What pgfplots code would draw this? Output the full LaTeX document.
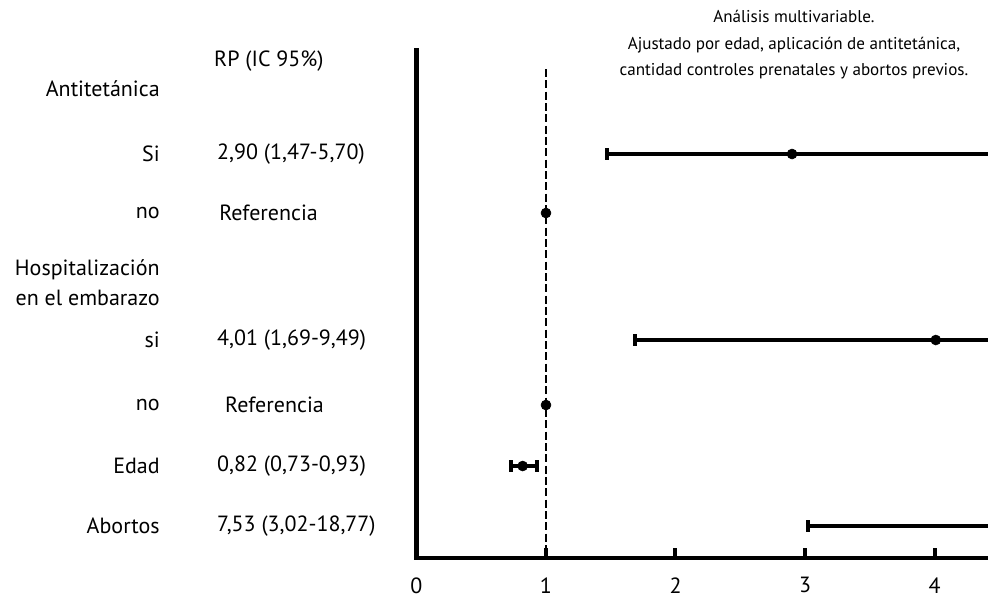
\documentclass[border=0pt]{standalone}
\usepackage{pgfplots}
\pgfplotsset{compat=1.18}
\usepackage{fontspec}
\setmainfont{PT Sans}
\begin{document}
\begin{tikzpicture}
\begin{axis}[
  x=97.125pt, y=0.75pt,
  xmin=0, xmax=4.413, ymin=35, ymax=543,
  axis x line=bottom, axis y line=left,
  axis line style={-, line width=3.4pt, line cap=rect},
  xtick={0,1,2,3,4}, ytick=\empty,
  tick align=inside, major tick length=7.5pt,
  x tick style={line width=3pt, black},
  xticklabel style={font=\fontsize{16.5}{19}\selectfont, yshift=-11pt},
  /pgf/number format/assume math mode=true,
  clip mode=individual,
  font=\fontsize{16.5}{19}\selectfont,
]
% reference line at 1
\addplot[black, line width=1.1pt, dash pattern=on 6pt off 2.5pt] coordinates {(1,524) (1,45)};
% estimates with 95% CI
\addplot[black, only marks, mark=*, mark size=3.75pt,
  error bars/.cd, x dir=both, x explicit,
  error bar style={line width=3pt},
  error mark options={rotate=90, line width=3pt, mark size=4.2pt}]
coordinates {
  (2.90,439) -= (1.43,0) += (2.80,0)
  (4.01,253) -= (2.32,0) += (5.48,0)
  (0.82,127) -= (0.09,0) += (0.11,0)
  (7.53,67)  -= (4.51,0) += (11.24,0)
};
\addplot[black, only marks, mark=*, mark size=3.75pt] coordinates {(1,380) (1,188)};
% left labels
\node[anchor=east, inner sep=0] at (axis cs:-1.981,504) {Antitetánica};
\node[anchor=east, inner sep=0] at (axis cs:-1.981,439) {Si};
\node[anchor=east, inner sep=0] at (axis cs:-1.981,380) {no};
\node[anchor=east, inner sep=0] at (axis cs:-1.981,323) {Hospitalización};
\node[anchor=east, inner sep=0] at (axis cs:-1.981,295) {en el embarazo};
\node[anchor=east, inner sep=0] at (axis cs:-1.981,253) {si};
\node[anchor=east, inner sep=0] at (axis cs:-1.981,188) {no};
\node[anchor=east, inner sep=0] at (axis cs:-1.981,127) {Edad};
\node[anchor=east, inner sep=0] at (axis cs:-1.981,67) {Abortos};
% RP column
\node[anchor=west, inner sep=0] at (axis cs:-1.564,532) {RP (IC 95\%)};
\node[anchor=west, inner sep=0] at (axis cs:-1.541,439) {2,90 (1,47-5,70)};
\node[anchor=west, inner sep=0] at (axis cs:-1.525,380) {Referencia};
\node[anchor=west, inner sep=0] at (axis cs:-1.541,253) {4,01 (1,69-9,49)};
\node[anchor=west, inner sep=0] at (axis cs:-1.479,188) {Referencia};
\node[anchor=west, inner sep=0] at (axis cs:-1.541,127) {0,82 (0,73-0,93)};
\node[anchor=west, inner sep=0] at (axis cs:-1.541,67) {7,53 (3,02-18,77)};
% title
\node[align=center, inner sep=0, font=\fontsize{12.8}{19.9}\selectfont] at (axis cs:2.915,548) {Análisis multivariable.\\Ajustado por edad, aplicación de antitetánica,\\cantidad controles prenatales y abortos previos.};
\coordinate (bbA) at (axis cs:-3.216,0);
\coordinate (bbB) at (axis cs:4.413,593);
\end{axis}
\pgfresetboundingbox
\useasboundingbox (bbA) rectangle (bbB);
\end{tikzpicture}
\end{document}
